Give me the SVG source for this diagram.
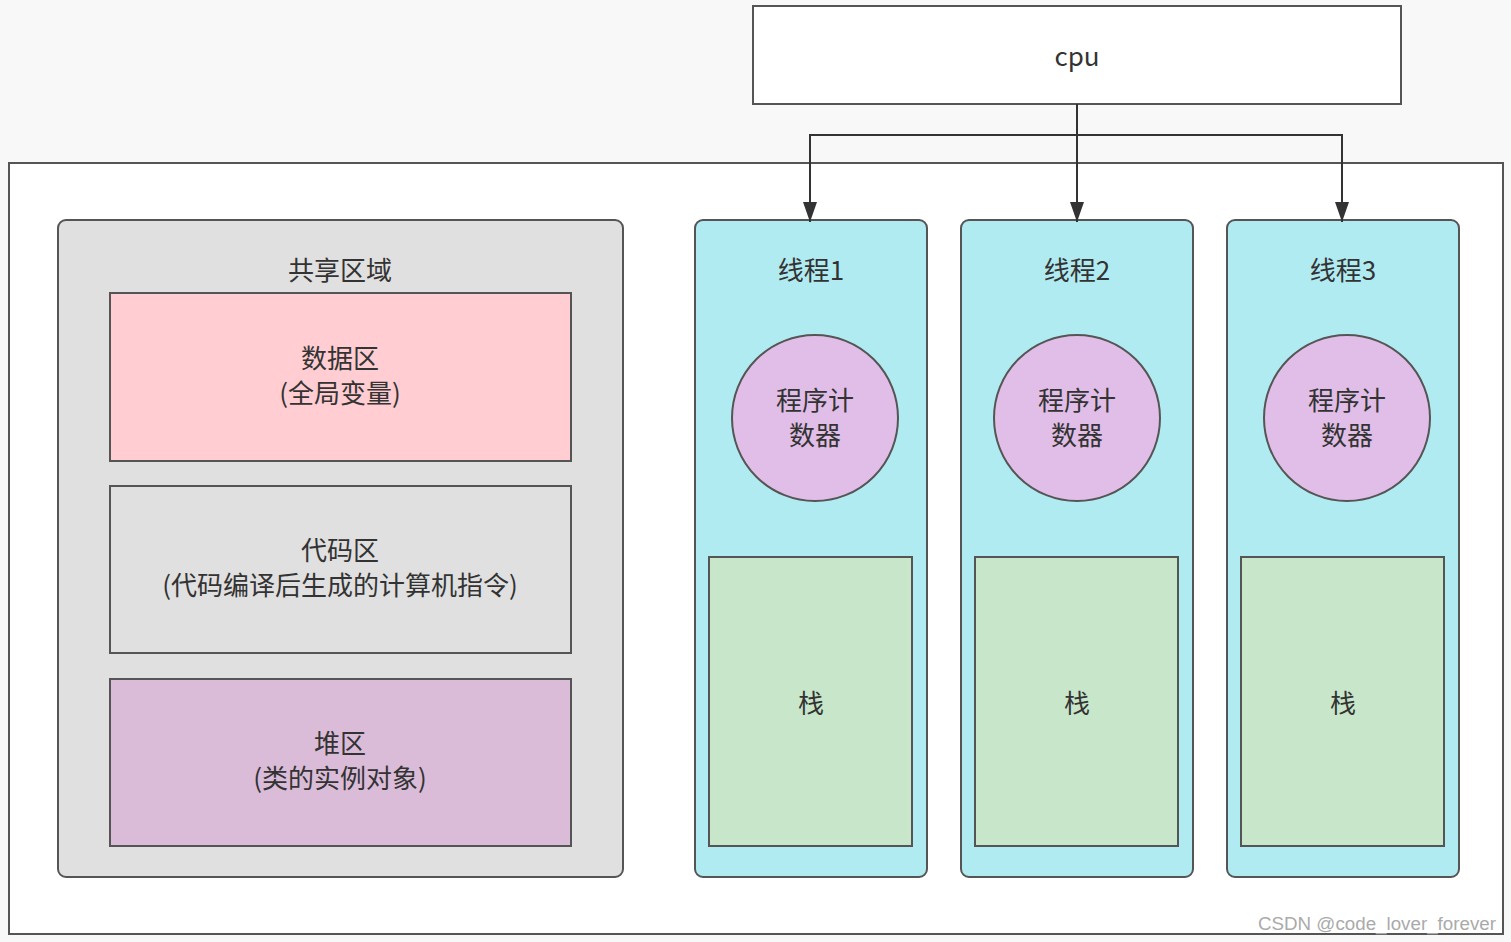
<svg xmlns="http://www.w3.org/2000/svg" width="1511" height="942" viewBox="0 0 1511 942">
<style>
text{font-family:"Microsoft YaHei","Noto Sans CJK SC","Noto Sans",sans-serif;font-size:26px;fill:#333;text-anchor:middle}
.b{stroke:#555;stroke-width:2}
.c{stroke:#333;stroke-width:2;fill:none}
.wm{font-family:"Liberation Sans",Arial,sans-serif;font-size:18px;fill:#aaa;text-anchor:start}
</style>
<defs>
<marker id="ar" viewBox="0 0 20 14" refX="20" refY="7" markerWidth="20" markerHeight="14" markerUnits="userSpaceOnUse" orient="auto">
<path d="M0,0 L20,7 L0,14 Z" fill="#333"/>
</marker>
</defs>
<rect width="1511" height="942" fill="#f8f8f8"/>
<g id="outer"><rect x="9" y="163" width="1494" height="771" fill="#fff" class="b"/></g>
<g id="cpu"><rect x="753" y="6" width="648" height="98" fill="#fff" class="b"/><text x="1077" y="66">cpu</text></g>
<g id="shared">
<rect x="58" y="220" width="565" height="657" rx="8" fill="#e0e0e0" class="b"/>
<text x="340" y="280">共享区域</text>
</g>
<g id="data"><rect x="110" y="293" width="461" height="168" fill="#ffcdd2" class="b"/><text x="340" y="368">数据区<tspan x="340" dy="35">(全局变量)</tspan></text></g>
<g id="code"><rect x="110" y="486" width="461" height="167" fill="#e0e0e0" class="b"/><text x="340" y="560">代码区<tspan x="340" dy="35">(代码编译后生成的计算机指令)</tspan></text></g>
<g id="heap"><rect x="110" y="679" width="461" height="167" fill="#dabcd9" class="b"/><text x="340" y="753">堆区<tspan x="340" dy="35">(类的实例对象)</tspan></text></g>
<g id="t1"><rect x="695" y="220" width="232" height="657" rx="8" fill="#b1ebf2" class="b"/><text x="811" y="280">线程1</text>
<circle cx="815" cy="418" r="83" fill="#e1bee7" class="b"/><text x="815" y="410">程序计<tspan x="815" dy="35">数器</tspan></text>
<rect x="709" y="557" width="203" height="289" fill="#c8e6c9" class="b"/><text x="811" y="713">栈</text></g>
<g id="t2"><rect x="961" y="220" width="232" height="657" rx="8" fill="#b1ebf2" class="b"/><text x="1077" y="280">线程2</text>
<circle cx="1077" cy="418" r="83" fill="#e1bee7" class="b"/><text x="1077" y="410">程序计<tspan x="1077" dy="35">数器</tspan></text>
<rect x="975" y="557" width="203" height="289" fill="#c8e6c9" class="b"/><text x="1077" y="713">栈</text></g>
<g id="t3"><rect x="1227" y="220" width="232" height="657" rx="8" fill="#b1ebf2" class="b"/><text x="1343" y="280">线程3</text>
<circle cx="1347" cy="418" r="83" fill="#e1bee7" class="b"/><text x="1347" y="410">程序计<tspan x="1347" dy="35">数器</tspan></text>
<rect x="1241" y="557" width="203" height="289" fill="#c8e6c9" class="b"/><text x="1343" y="713">栈</text></g>
<g id="connectors">
<path class="c" d="M1077,104 V222" marker-end="url(#ar)"/>
<path class="c" d="M1077,135 H810 V222" marker-end="url(#ar)"/>
<path class="c" d="M1077,135 H1342 V222" marker-end="url(#ar)"/>
</g>
<text class="wm" x="1258" y="930" textLength="238" lengthAdjust="spacingAndGlyphs">CSDN @code_lover_forever</text>
</svg>
